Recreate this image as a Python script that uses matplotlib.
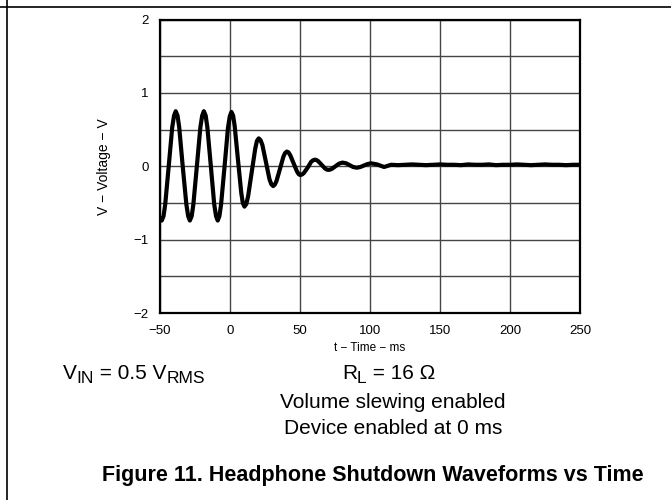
import matplotlib
matplotlib.use("Agg")
import matplotlib.pyplot as plt
from matplotlib.lines import Line2D
from matplotlib.transforms import offset_copy

plt.rcParams["font.family"] = ["Liberation Sans", "DejaVu Sans"]

# Waveform readings (time in ms, voltage in V) taken off the scope trace
time_ms = [
    -50.0, -48.8, -47.5, -46.3, -43.8, -41.3, -40.0, -38.8, -37.5, -36.3,
    -33.8, -31.2, -29.9, -28.7, -27.4, -26.2, -23.7, -21.2, -19.9, -18.7,
    -17.4, -16.2, -13.7, -11.3, -10.0, -8.8, -7.6, -6.4, -3.9, -1.5,
    -0.2, 1.0, 2.2, 3.3, 5.6, 8.0, 9.1, 10.3, 11.6, 12.9,
    15.4, 18.0, 19.2, 20.5, 21.8, 23.1, 25.6, 28.2, 29.5, 30.8,
    32.0, 33.2, 35.6, 38.1, 39.3, 40.5, 41.7, 43.0, 45.4, 47.8,
    49.1, 50.3, 51.6, 52.8, 55.4, 57.9, 59.2, 60.5, 61.7, 62.9,
    65.4, 67.8, 69.1, 70.3, 71.5, 72.8, 75.3, 77.8, 80.3, 82.9,
    85.4, 87.9, 90.5, 93.1, 95.6, 98.2, 100.8, 105.0, 110.0, 115.0,
    120.0, 125.0, 130.0, 135.0, 140.0, 145.0, 150.0, 155.0, 160.0, 165.0,
    170.0, 175.0, 180.0, 185.0, 190.0, 195.0, 200.0, 205.0, 210.0, 215.0,
    220.0, 225.0, 230.0, 235.0, 240.0, 245.0, 250.0,
]
voltage = [
    -0.70, -0.74, -0.68, -0.52, 0.00, 0.53, 0.69, 0.75, 0.69, 0.53,
    0.00, -0.52, -0.68, -0.74, -0.68, -0.52, 0.00, 0.53, 0.69, 0.75,
    0.69, 0.53, 0.00, -0.52, -0.68, -0.74, -0.68, -0.52, 0.00, 0.52,
    0.68, 0.74, 0.69, 0.55, 0.10, -0.36, -0.50, -0.55, -0.515, -0.41,
    -0.09, 0.24, 0.345, 0.38, 0.355, 0.29, 0.06, -0.18, -0.245, -0.27,
    -0.25, -0.20, -0.04, 0.13, 0.18, 0.20, 0.19, 0.15, 0.04, -0.07,
    -0.11, -0.12, -0.11, -0.09, -0.02, 0.06, 0.08, 0.09, 0.085, 0.07,
    0.02, -0.03, -0.045, -0.05, -0.045, -0.035, 0.00, 0.035, 0.05, 0.04,
    0.015, -0.01, -0.02, -0.01, 0.01, 0.03, 0.04, 0.025, -0.01, 0.02,
    0.015, 0.02, 0.025, 0.02, 0.015, 0.02, 0.025, 0.02, 0.02, 0.015,
    0.025, 0.02, 0.02, 0.025, 0.015, 0.02, 0.02, 0.025, 0.02, 0.015,
    0.02, 0.025, 0.02, 0.02, 0.015, 0.02, 0.02,
]

x_ticks = [-50, 0, 50, 100, 150, 200, 250]
y_ticks = [-2, -1, 0, 1, 2]
y_minor = [-1.5, -0.5, 0.5, 1.5]

# (text, is_subscript) pieces of the two condition labels
vin_parts = [("V", False), ("IN", True), (" = 0.5 V", False), ("RMS", True)]
rl_parts = [("R", False), ("L", True), (" = 16 \u03a9", False)]

MAIN_SIZE = 15
SUB_SIZE = 12.5


def draw_parts(fig, x, y, parts):
    """Writes text pieces one after another, subscripts smaller and lowered."""
    renderer = fig.canvas.get_renderer()
    trans = fig.transFigure
    dx = 0.0
    for txt, sub in parts:
        size = SUB_SIZE if sub else MAIN_SIZE
        dy = -3 if sub else 0
        t = fig.text(x, y, txt, fontsize=size, ha="left", va="baseline",
                     transform=offset_copy(trans, fig=fig, x=dx, y=dy, units="points"))
        bb = t.get_window_extent(renderer=renderer)
        dx += bb.width * 72.0 / fig.dpi


def main():
    fig = plt.figure(figsize=(6.71, 5.0), dpi=100)
    ax = fig.add_axes([0.2385, 0.374, 0.626, 0.587])

    ax.plot(time_ms, voltage, color="black", lw=3.0,
            solid_joinstyle="round", solid_capstyle="round")

    ax.set_xlim(-50, 250)
    ax.set_ylim(-2, 2)
    ax.set_xticks(x_ticks)
    ax.set_yticks(y_ticks)
    ax.set_yticks(y_minor, minor=True)
    ax.grid(True, which="both", color="#454545", lw=1.0)
    ax.tick_params(which="both", length=0, labelsize=9.5)
    ax.tick_params(axis="x", pad=9)
    ax.tick_params(axis="y", pad=8)
    for s in ax.spines.values():
        s.set_linewidth(1.6)

    ax.set_xlabel("t \u2212 Time \u2212 ms", fontsize=8.5, labelpad=3)
    ax.set_ylabel("V \u2212 Voltage \u2212 V", fontsize=10, labelpad=16)

    # page frame lines
    fig.add_artist(Line2D([7 / 671, 7 / 671], [0, 1], color="black", lw=1.2))
    fig.add_artist(Line2D([0, 1], [1 - 7 / 500, 1 - 7 / 500], color="black", lw=1.2))

    draw_parts(fig, 63 / 671, 1 - 379 / 500, vin_parts)
    draw_parts(fig, 342 / 671, 1 - 379 / 500, rl_parts)
    fig.text(393 / 671, 1 - 402 / 500, "Volume slewing enabled",
             fontsize=15, ha="center", va="center")
    fig.text(393 / 671, 1 - 429 / 500, "Device enabled at 0 ms",
             fontsize=15, ha="center", va="center")
    fig.text(373 / 671, 1 - 475 / 500, "Figure 11. Headphone Shutdown Waveforms vs Time",
             fontsize=15.5, fontweight="bold", ha="center", va="center")

    fig.savefig("out.png", dpi=100)


if __name__ == "__main__":
    main()
